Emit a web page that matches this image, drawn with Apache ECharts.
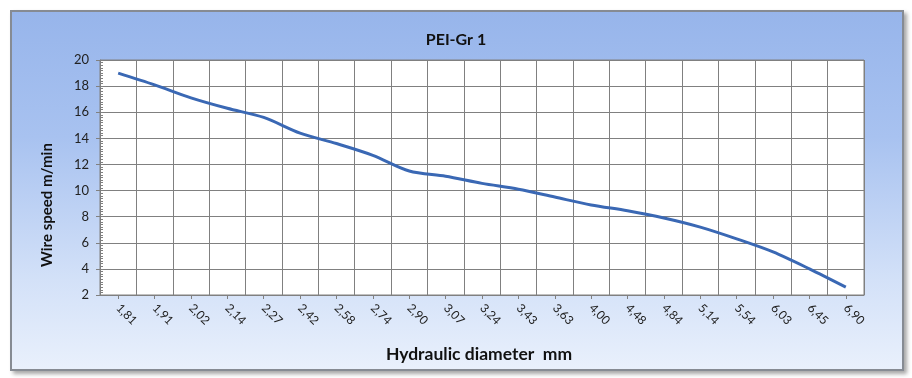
<!DOCTYPE html>
<html>
<head>
<meta charset="utf-8">
<script src="https://cdn.jsdelivr.net/npm/echarts@6/dist/echarts.min.js"></script>
<style>
  html, body { margin: 0; padding: 0; background: #ffffff; }
  #wrap { position: relative; width: 912px; height: 378px; overflow: hidden; }
  #frame {
    position: absolute; left: 10px; top: 10px; width: 890px; height: 357px;
    border: 2px solid #868b93;
    background: linear-gradient(180deg, #97b5eb 0%, #a8c2f0 35%, #d3e1f8 75%, #e9f0fc 100%);
    box-shadow: 3px 3px 4px rgba(0,0,0,0.35);
  }
  #chart { position: absolute; left: 0; top: 0; width: 912px; height: 378px; }
</style>
</head>
<body>
<div id="wrap">
  <div id="frame"></div>
  <div id="chart"></div>
</div>
<script>
// ============================================================
// 数据
// ============================================================
var diameterLabels = ['1,81', '1,91', '2,02', '2,14', '2,27', '2,42', '2,58', '2,74', '2,90', '3,07',
  '3,24', '3,43', '3,63', '4,00', '4,48', '4,84', '5,14', '5,54', '6,03', '6,45', '6,90'];
var wireSpeed = [19.0, 18.1, 17.1, 16.3, 15.6, 14.4, 13.6, 12.7, 11.5, 11.1,
  10.55, 10.1, 9.5, 8.9, 8.45, 7.9, 7.2, 6.3, 5.3, 4.0, 2.6];

var TITLE = 'PEI-Gr 1';
var X_NAME = 'Hydraulic diameter  mm';
var Y_NAME = 'Wire speed m/min';

var FONT = 'Lato, "Open Sans", sans-serif';
var GRID_COLOR = '#808080';
var LINE_COLOR = '#3a68b4';

// ============================================================
// 渲染
// ============================================================
var chart = echarts.init(document.getElementById('chart'), null, { renderer: 'canvas' });

chart.setOption({
  backgroundColor: 'transparent',
  animation: false,
  title: {
    text: TITLE,
    left: 'center',
    top: 27,
    textStyle: { fontFamily: FONT, fontSize: 16, fontWeight: 'bold', color: '#111' }
  },
  grid: {
    left: 100, right: 48, top: 60, bottom: 83,
    show: true,
    backgroundColor: '#ffffff',
    borderColor: GRID_COLOR,
    borderWidth: 1
  },
  xAxis: {
    type: 'category',
    data: diameterLabels,
    boundaryGap: true,
    name: X_NAME,
    nameLocation: 'middle',
    nameGap: 50,
    nameTextStyle: { fontFamily: FONT, fontSize: 17.5, fontWeight: 'bold', color: '#111', padding: [0, 6, 0, 0] },
    axisLine: { lineStyle: { color: GRID_COLOR, width: 1 } },
    axisTick: { show: true, alignWithLabel: true, length: 4, lineStyle: { color: GRID_COLOR } },
    axisLabel: {
      rotate: -45,
      interval: 0,
      margin: 11,
      fontFamily: FONT,
      fontSize: 12,
      color: '#222'
    },
    splitLine: { show: true, interval: 0, lineStyle: { color: GRID_COLOR, width: 1 } }
  },
  yAxis: [{
    type: 'value',
    min: 2,
    max: 20,
    interval: 2,
    name: Y_NAME,
    nameLocation: 'middle',
    nameGap: 45,
    nameTextStyle: { fontFamily: FONT, fontSize: 15, fontWeight: 'bold', color: '#111', padding: [0, 55, 0, 0] },
    axisLine: { show: true, lineStyle: { color: GRID_COLOR, width: 1 } },
    axisTick: { show: true, length: 4, lineStyle: { color: GRID_COLOR } },
    axisLabel: { fontFamily: FONT, fontSize: 13, color: '#222', margin: 11 },
    splitLine: { show: true, lineStyle: { color: GRID_COLOR, width: 1 } }
  }, {
    // 内侧次刻度
    type: 'value',
    position: 'left',
    min: 2,
    max: 20,
    interval: 2,
    axisLine: { show: false },
    axisTick: { show: false, inside: true },
    minorTick: { show: true, splitNumber: 10, length: 3, lineStyle: { color: GRID_COLOR } },
    axisLabel: { show: false },
    splitLine: { show: false }
  }],
  series: [{
    type: 'line',
    data: wireSpeed,
    smooth: 0.3,
    symbol: 'none',
    lineStyle: { color: LINE_COLOR, width: 3 }
  }]
});
</script>
</body>
</html>
